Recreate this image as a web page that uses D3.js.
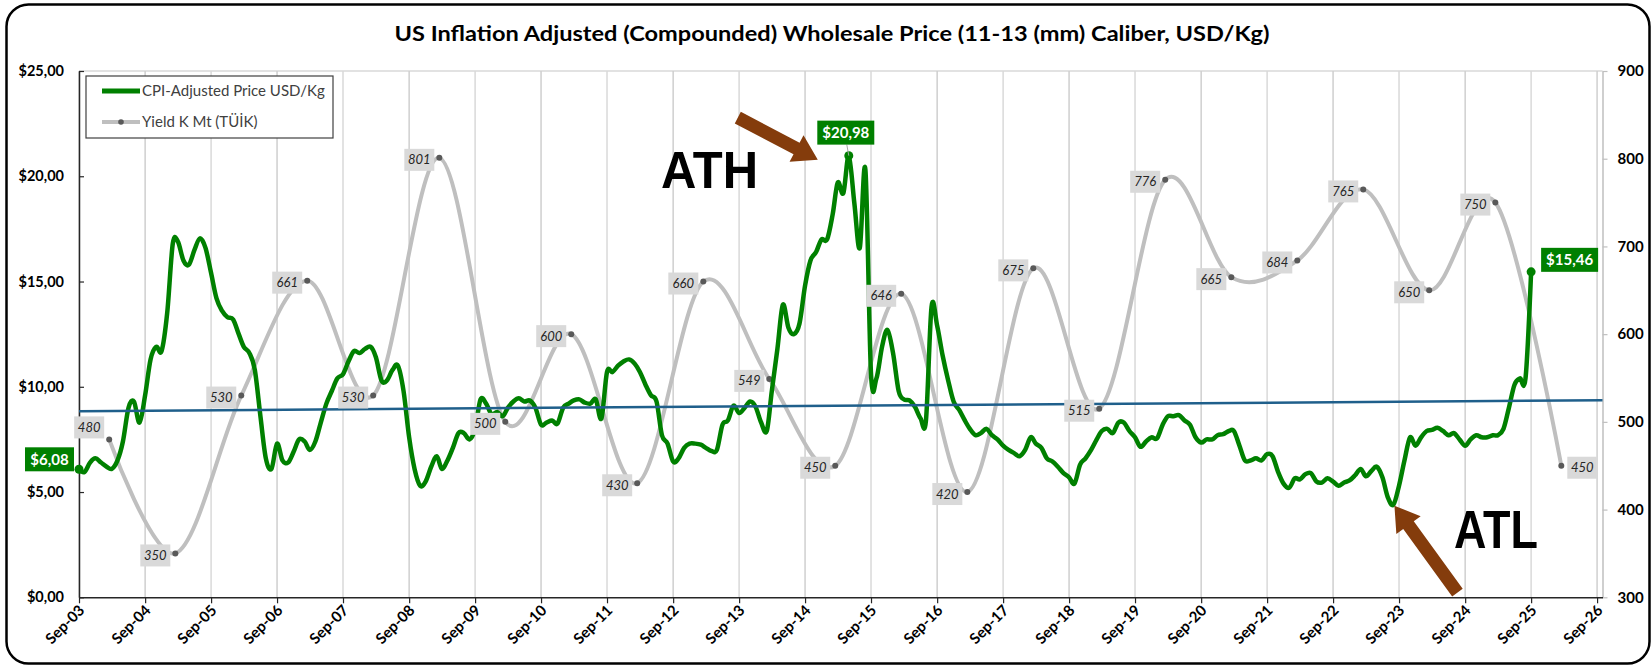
<!DOCTYPE html>
<html>
<head>
<meta charset="utf-8">
<script src="https://cdn.jsdelivr.net/npm/d3@7"></script>
<style>
  body { margin: 0; background: #fff; }
  svg { display: block; }
  text { font-family: Lato, "Open Sans", sans-serif; }
</style>
</head>
<body>
<svg id="chart" width="1652" height="666"></svg>
<script>
// ---- data ----
const titleText = "US Inflation Adjusted (Compounded) Wholesale Price (11-13 (mm) Caliber, USD/Kg)";
const priceSeriesName = "CPI-Adjusted Price USD/Kg";
const yieldSeriesName = "Yield K Mt (TÜİK)";

// monthly, first value = Sep 2003, last value = Sep 2025
const priceStart = "2003-09-01";
const priceValues = [
  6.08, 5.95, 6.4, 6.6, 6.4, 6.2, 6.1, 6.5, 7.4, 9.0, 9.3, 8.3,
  9.6, 11.3, 11.9, 11.7, 13.5, 16.8, 16.9, 16.0, 15.8, 16.5, 17.05, 16.6,
  15.4, 14.2, 13.6, 13.3, 13.2, 12.5, 11.9, 11.6, 10.8, 8.6, 6.6, 6.1,
  7.3, 6.5, 6.4, 6.9, 7.5, 7.4, 7.0, 7.4, 8.3, 9.2, 9.8, 10.4,
  10.6, 11.2, 11.7, 11.6, 11.8, 11.9, 11.4, 10.3, 10.3, 10.8, 11.0, 9.8,
  7.6, 6.1, 5.3, 5.5, 6.2, 6.7, 6.1, 6.5, 7.1, 7.8, 7.8, 7.5,
  8.0, 9.4, 9.2, 8.7, 8.8, 8.6, 9.0, 9.3, 9.45, 9.3, 9.35, 9.0,
  8.2, 8.3, 8.4, 8.25, 9.0, 9.2, 9.35, 9.4, 9.25, 9.2, 9.4, 8.5,
  10.7, 10.7, 11.0, 11.2, 11.3, 11.1, 10.7, 10.1, 9.6, 9.3, 7.7, 7.3,
  6.45, 6.6, 7.1, 7.3, 7.3, 7.25, 7.1, 6.95, 7.0, 8.2, 8.4, 9.1,
  8.75, 9.0, 9.3, 9.05, 8.3, 7.9, 9.8, 11.8, 13.9, 12.8, 12.5, 13.0,
  14.8, 16.0, 16.4, 17.0, 17.0, 18.2, 19.7, 19.2, 20.98, 18.7, 16.6, 20.3,
  10.6, 10.4, 11.9, 12.7, 11.6, 9.8, 9.4, 9.35, 9.05, 8.5, 8.4, 13.8,
  12.9, 11.5, 10.3, 9.3, 8.9, 8.4, 8.0, 7.7, 7.8, 8.0, 7.7, 7.5,
  7.2, 7.0, 6.85, 6.7, 7.0, 7.6, 7.3, 7.1, 6.6, 6.45, 6.2, 5.9,
  5.7, 5.4, 6.3, 6.6, 7.0, 7.5, 7.9, 8.0, 7.8, 8.3, 8.3, 7.9,
  7.6, 7.15, 7.4, 7.6, 7.55, 8.2, 8.6, 8.6, 8.65, 8.4, 8.2, 7.6,
  7.35, 7.5, 7.5, 7.7, 7.75, 7.9, 7.9, 7.2, 6.5, 6.5, 6.6, 6.5,
  6.8, 6.7, 5.95, 5.4, 5.2, 5.65, 5.6, 5.85, 5.9, 5.5, 5.45, 5.65,
  5.5, 5.3, 5.45, 5.55, 5.8, 6.1, 5.75, 6.0, 6.2, 5.7, 4.75, 4.4,
  5.3, 6.5, 7.6, 7.2, 7.6, 7.9, 7.95, 8.05, 7.9, 7.7, 7.8, 7.5,
  7.2, 7.5, 7.7, 7.6, 7.6, 7.7, 7.7, 8.0, 9.0, 10.1, 10.4, 10.4,
  15.46
];
const priceLabelIdx = [0, 140, 264];   // first, ATH, last

const yieldDates = [
  "2004-02-15", "2005-02-15", "2006-02-15", "2007-02-15", "2008-02-15", "2009-02-15",
  "2010-02-15", "2011-02-15", "2012-02-15", "2013-02-15", "2014-02-15", "2015-02-15",
  "2016-02-15", "2017-02-15", "2018-02-15", "2019-02-15", "2020-02-15", "2021-02-15",
  "2022-02-15", "2023-02-15", "2024-02-15", "2025-02-15", "2026-02-15"
];
const yieldValues = [480, 350, 530, 661, 530, 801, 500, 600, 430, 660, 549, 450,
                     646, 420, 675, 515, 776, 665, 684, 765, 650, 750, 450];

const xTickYears = d3.range(2003, 2027);          // Sep-03 .. Sep-26
const leftTicks = [0, 5, 10, 15, 20, 25];
const rightTicks = [300, 400, 500, 600, 700, 800, 900];
const trendValues = [8.84, 9.36];                 // linear trend at the plot's two ends
const athIdx = 140, atlIdx = 239;

// ---- layout ----
const svg = d3.select("#chart");
const L = 79, R = 1602.5, T = 71, B = 597.3;
const green = "#008000", gray = "#bfbfbf", brown = "#843c0c";

const x = d3.scaleTime().domain([new Date(2003, 8, 1), new Date(2026, 9, 1)]).range([L, R]);
const yL = d3.scaleLinear().domain([0, 25]).range([B, T]);
const yR = d3.scaleLinear().domain([300, 900]).range([B, T]);

const p0 = d3.timeParse("%Y-%m-%d")(priceStart);
const price = priceValues.map((v, i) => ({ date: d3.timeMonth.offset(p0, i), v }));
const yields = yieldDates.map((d, i) => ({ date: d3.timeParse("%Y-%m-%d")(d), v: yieldValues[i] }));
const tickDates = xTickYears.map(y => new Date(y, 8, 1));

const loc = d3.formatLocale({ decimal: ",", thousands: ".", grouping: [3], currency: ["$", ""] });
const money = loc.format("$.2f");

// outer frame
svg.append("rect").attr("x", 6.5).attr("y", 4.5).attr("width", 1643).attr("height", 659)
  .attr("rx", 22).attr("fill", "#fff").attr("stroke", "#000").attr("stroke-width", 2.5);

// title
svg.append("text").attr("x", 832).attr("y", 41).attr("text-anchor", "middle")
  .attr("font-size", 20).attr("font-weight", 700).attr("fill", "#000")
  .attr("textLength", 875).attr("lengthAdjust", "spacingAndGlyphs")
  .text(titleText);

// gridlines
svg.append("line").attr("x1", L).attr("x2", R).attr("y1", T).attr("y2", T)
  .attr("stroke", "#d9d9d9").attr("stroke-width", 1.5);
svg.append("g").selectAll("line").data(tickDates).join("line")
  .attr("x1", d => x(d)).attr("x2", d => x(d)).attr("y1", T).attr("y2", B)
  .attr("stroke", (d, i) => i % 2 ? "#cfcfcf" : "#d9d9d9").attr("stroke-width", 1.5);

// axes
const axL = svg.append("g").attr("transform", `translate(${L},0)`)
  .call(d3.axisLeft(yL).tickValues(leftTicks).tickSizeInner(-5).tickSizeOuter(0).tickPadding(15)
    .tickFormat(d => money(d)));
const axR = svg.append("g").attr("transform", `translate(${R},0)`)
  .call(d3.axisRight(yR).tickValues(rightTicks).tickSizeInner(5).tickSizeOuter(0).tickPadding(10));
const axB = svg.append("g").attr("transform", `translate(0,${B})`)
  .call(d3.axisBottom(x).tickValues(tickDates).tickSizeInner(6).tickSizeOuter(0)
    .tickFormat(d3.timeFormat("%b-%y")));

[axL, axR, axB].forEach(a => {
  a.selectAll("text").attr("font-size", 14.5).attr("font-weight", 700).attr("fill", "#000")
    .style("font-family", "Lato, 'Open Sans', sans-serif");
});
axR.selectAll("text").attr("font-size", 15);
axL.select(".domain").attr("stroke", "#262626").attr("stroke-width", 1.5);
axL.selectAll(".tick line").attr("stroke", "#262626").attr("stroke-width", 1.2);
axR.select(".domain").attr("stroke", "#bfbfbf").attr("stroke-width", 1.5);
axR.selectAll(".tick line").attr("stroke", "#bfbfbf").attr("stroke-width", 1.2);
axB.select(".domain").attr("stroke", "#262626").attr("stroke-width", 1.5);
axB.selectAll(".tick line").attr("stroke", "#262626").attr("stroke-width", 1.2);
axB.selectAll("text").attr("font-size", 15)
  .attr("text-anchor", "end").attr("dy", null).attr("y", 0)
  .attr("transform", "translate(6,14) rotate(-45)");

// yield line (right axis)
const lineY = d3.line().x(d => x(d.date)).y(d => yR(d.v)).curve(d3.curveCardinal.tension(0));
svg.append("path").datum(yields).attr("d", lineY).attr("fill", "none")
  .attr("stroke", gray).attr("stroke-width", 4);
svg.append("g").selectAll("circle").data(yields).join("circle")
  .attr("cx", d => x(d.date)).attr("cy", d => yR(d.v)).attr("r", 3).attr("fill", "#595959");

// price line (left axis)
const lineP = d3.line().x(d => x(d.date)).y(d => yL(d.v)).curve(d3.curveCardinal.tension(0));
svg.append("path").datum(price).attr("d", lineP).attr("fill", "none")
  .attr("stroke", green).attr("stroke-width", 4.5).attr("stroke-linejoin", "round");

// linear trend
svg.append("line").attr("x1", L).attr("x2", R)
  .attr("y1", yL(trendValues[0])).attr("y2", yL(trendValues[1]))
  .attr("stroke", "#1f5f8b").attr("stroke-width", 2.5);

// yield data labels
const yl = svg.append("g").selectAll("g").data(yields).join("g")
  .attr("transform", (d, i) => {
    const px = x(d.date), py = yR(d.v);
    const bx = i === yields.length - 1 ? px + 6 : px - 5 - 30;
    const by = i === 0 ? py - 23 : py - 9;
    return `translate(${bx},${by})`;
  });
yl.append("rect").attr("width", 30).attr("height", 22).attr("fill", "#d9d9d9");
yl.append("text").attr("x", 15).attr("y", 15.5).attr("text-anchor", "middle")
  .attr("font-size", 13).attr("font-style", "italic").attr("fill", "#262626")
  .text(d => d.v);

// price highlight points + labels
const hp = priceLabelIdx.map(i => price[i]);
svg.append("g").selectAll("circle").data(hp).join("circle")
  .attr("cx", d => x(d.date)).attr("cy", d => yL(d.v)).attr("r", 4.5).attr("fill", green);
hp.forEach((d, k) => {
  const px = x(d.date), py = yL(d.v);
  const w = k === 0 ? 49 : 57, h = 24;
  let bx, by;
  if (k === 0) { bx = px - 5 - w; by = py - 22; }
  else if (k === 1) { bx = px - 3 - w / 2; by = py - 11 - h; }
  else { bx = px + 10; by = py - h; }
  if (k === 1) {
    svg.append("line").attr("x1", px - 2).attr("x2", px).attr("y1", by + h).attr("y2", py)
      .attr("stroke", "#a6a6a6").attr("stroke-width", 1);
  }
  svg.append("rect").attr("x", bx).attr("y", by).attr("width", w).attr("height", h).attr("fill", green);
  svg.append("text").attr("x", bx + w / 2).attr("y", by + h / 2 + 5.5).attr("text-anchor", "middle")
    .attr("font-size", 15).attr("font-weight", 700).attr("fill", "#fff").text(money(d.v));
});

// ATH / ATL annotations
function blockArrow(tail, tip) {
  const dx = tip[0] - tail[0], dy = tip[1] - tail[1], len = Math.hypot(dx, dy);
  const ux = dx / len, uy = dy / len, nx = -uy, ny = ux;
  const sw = 6.5, hw = 15, hl = 24;
  const bx = tip[0] - ux * hl, by = tip[1] - uy * hl;
  const pts = [
    [tail[0] + nx * sw, tail[1] + ny * sw], [bx + nx * sw, by + ny * sw], [bx + nx * hw, by + ny * hw],
    tip, [bx - nx * hw, by - ny * hw], [bx - nx * sw, by - ny * sw], [tail[0] - nx * sw, tail[1] - ny * sw]
  ];
  svg.append("polygon").attr("points", pts.map(p => p.join(",")).join(" ")).attr("fill", brown);
}
const ath = price[athIdx], atl = price[atlIdx];
blockArrow([x(ath.date) - 111, yL(ath.v) - 38], [x(ath.date) - 31, yL(ath.v) + 4]);
blockArrow([x(atl.date) + 64, yL(atl.v) + 88], [x(atl.date) + 1, yL(atl.v) + 1]);

svg.append("text").attr("x", 661).attr("y", 188).attr("font-size", 52).attr("font-weight", 700)
  .attr("fill", "#000").style("font-family", "'Liberation Sans', Arial, sans-serif")
  .attr("textLength", 97).attr("lengthAdjust", "spacingAndGlyphs").text("ATH");
svg.append("text").attr("x", 1454).attr("y", 548).attr("font-size", 53).attr("font-weight", 700)
  .attr("fill", "#000").style("font-family", "'Liberation Sans', Arial, sans-serif")
  .attr("textLength", 84).attr("lengthAdjust", "spacingAndGlyphs").text("ATL");

// legend
const lg = svg.append("g");
lg.append("rect").attr("x", 86).attr("y", 76).attr("width", 247).attr("height", 62)
  .attr("fill", "#fff").attr("stroke", "#404040").attr("stroke-width", 1.2);
lg.append("line").attr("x1", 102).attr("x2", 140).attr("y1", 91).attr("y2", 91)
  .attr("stroke", green).attr("stroke-width", 5);
lg.append("text").attr("x", 142).attr("y", 96).attr("font-size", 15).attr("fill", "#404040")
  .text(priceSeriesName);
lg.append("line").attr("x1", 102).attr("x2", 140).attr("y1", 122).attr("y2", 122)
  .attr("stroke", gray).attr("stroke-width", 4);
lg.append("circle").attr("cx", 121).attr("cy", 122).attr("r", 2.8).attr("fill", "#595959");
lg.append("text").attr("x", 142).attr("y", 127).attr("font-size", 15).attr("fill", "#404040")
  .text(yieldSeriesName);
</script>
</body>
</html>
